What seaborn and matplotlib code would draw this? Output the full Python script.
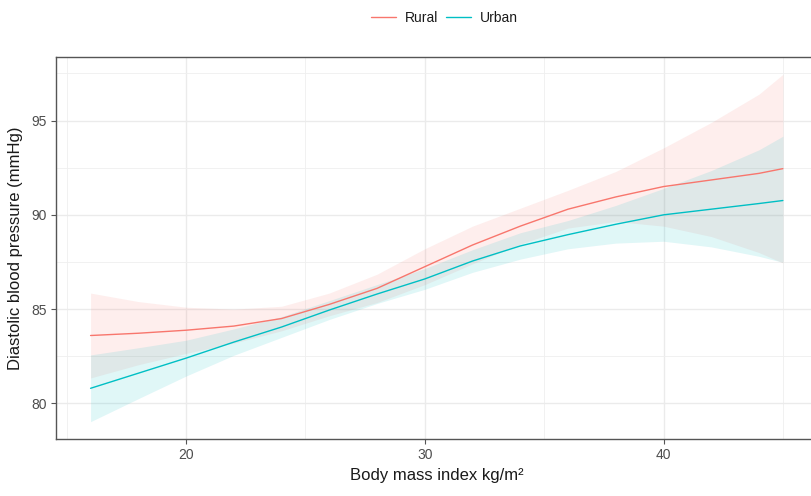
import numpy as np
import pandas as pd
import seaborn as sns
import matplotlib.pyplot as plt
from matplotlib.ticker import MultipleLocator
from matplotlib.lines import Line2D

# Smoothed diastolic blood pressure by body mass index, with confidence bands
bmi = [16, 18, 20, 22, 24, 26, 28, 30, 32, 34, 36, 38, 40, 42, 44, 45]

rural_fit = [83.60, 83.72, 83.88, 84.10, 84.50, 85.25, 86.10, 87.25,
             88.40, 89.40, 90.30, 90.95, 91.50, 91.85, 92.20, 92.45]
rural_upper = [85.85, 85.40, 85.10, 85.00, 85.15, 85.85, 86.85, 88.20,
               89.40, 90.35, 91.30, 92.30, 93.55, 94.90, 96.40, 97.45]
rural_lower = [81.35, 82.05, 82.65, 83.20, 83.85, 84.65, 85.35, 86.30,
               87.40, 88.45, 89.30, 89.65, 89.40, 88.85, 88.00, 87.45]

urban_fit = [80.80, 81.60, 82.40, 83.25, 84.05, 84.95, 85.80, 86.60,
             87.55, 88.35, 88.95, 89.50, 90.00, 90.30, 90.60, 90.76]
urban_upper = [82.57, 82.95, 83.35, 83.95, 84.60, 85.45, 86.30, 87.15,
               88.15, 89.05, 89.70, 90.50, 91.40, 92.35, 93.45, 94.17]
urban_lower = [79.03, 80.25, 81.45, 82.55, 83.50, 84.45, 85.30, 86.05,
               86.95, 87.65, 88.20, 88.50, 88.60, 88.30, 87.80, 87.48]

groups = ["Rural", "Urban"]
palette = {"Rural": "#F8766D", "Urban": "#00BFC4"}

df = pd.DataFrame({
    "bmi": bmi * 2,
    "dbp": rural_fit + urban_fit,
    "area": ["Rural"] * len(bmi) + ["Urban"] * len(bmi),
})

sns.set_theme(style="white")
plt.rcParams["font.family"] = ["Liberation Sans", "DejaVu Sans"]

fig = plt.figure(figsize=(8.11, 4.96), dpi=100)
ax = fig.add_axes([0.069, 0.1149, 1.008 - 0.069, 0.885 - 0.1149])

ax.fill_between(bmi, rural_lower, rural_upper, color=palette["Rural"],
                alpha=0.12, linewidth=0, zorder=2)
ax.fill_between(bmi, urban_lower, urban_upper, color=palette["Urban"],
                alpha=0.12, linewidth=0, zorder=2)

sns.lineplot(data=df, x="bmi", y="dbp", hue="area", palette=palette,
             hue_order=groups, linewidth=1.0, legend=False, ax=ax, zorder=3)

ax.set_xlim(14.55, 46.45)
ax.set_ylim(78.11, 98.37)
ax.xaxis.set_major_locator(MultipleLocator(10))
ax.xaxis.set_minor_locator(MultipleLocator(5))
ax.yaxis.set_major_locator(MultipleLocator(5))
ax.yaxis.set_minor_locator(MultipleLocator(2.5))

ax.grid(which="major", color="#EBEBEB", linewidth=1.0, zorder=0)
ax.grid(which="minor", color="#EFEFEF", linewidth=0.6, zorder=0)
ax.set_axisbelow(True)

for side in ax.spines.values():
    side.set_color("#555555")
    side.set_linewidth(1.0)

ax.tick_params(axis="both", which="major", direction="out", length=3.5,
               width=0.8, color="#555555", labelcolor="#4D4D4D",
               labelsize=10, pad=3, bottom=True, left=True)
ax.tick_params(axis="both", which="minor", length=0)

ax.set_xlabel("Body mass index kg/m²", fontsize=12, color="#1A1A1A", labelpad=4)
ax.set_ylabel("Diastolic blood pressure (mmHg)", fontsize=12, color="#1A1A1A",
              labelpad=6)

handles = [Line2D([0], [0], color=palette[g], linewidth=1.0) for g in groups]
fig.legend(handles, groups, loc="center", bbox_to_anchor=(0.548, 0.963),
           ncol=2, frameon=False, fontsize=10, handlelength=1.8,
           handletextpad=0.6, columnspacing=0.6, labelcolor="#1A1A1A")

fig.savefig("out.png", dpi=100)
